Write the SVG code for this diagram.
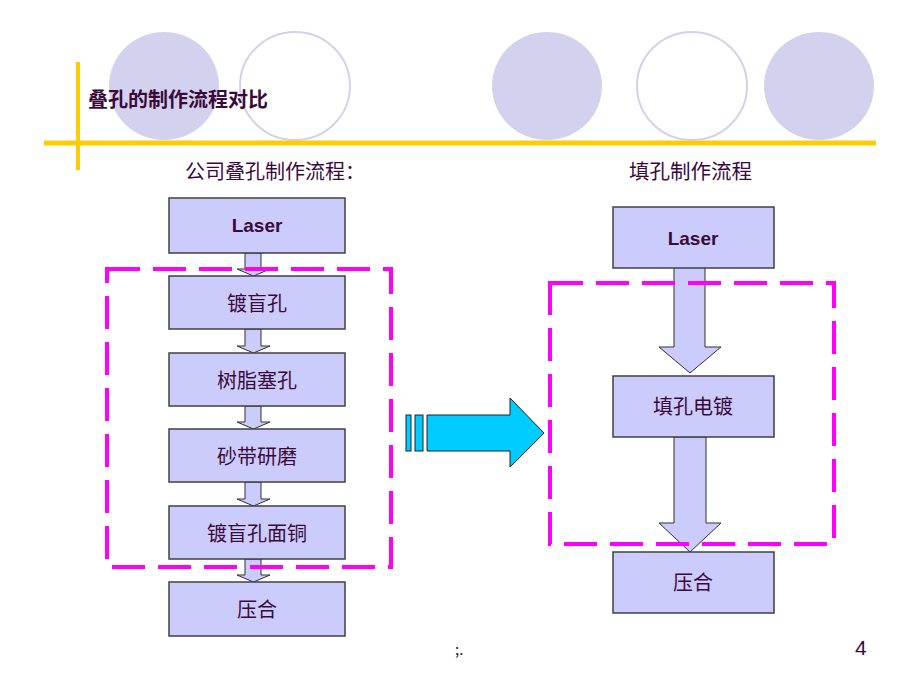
<svg xmlns="http://www.w3.org/2000/svg" width="920" height="690" viewBox="0 0 920 690">
<style>
.bg{fill:#ffffff}
.circ-f{fill:#d2d2ee;stroke:none}
.circ-o{fill:#ffffff;stroke:#d2d2ee;stroke-width:2}
.gold{stroke:#ffcc00;fill:none}
.box{fill:#ccccfc;stroke:#404040;stroke-width:1.5}
.arr{fill:#ccccfc;stroke:#303030;stroke-width:1}
.cyan{fill:#00ccff;stroke:#202020;stroke-width:1}
.dash{fill:none;stroke:#ff00ff;stroke-width:4;stroke-dasharray:33 13}
.t{font-family:"Noto Sans CJK SC","Noto Sans",sans-serif;fill:#3a0a3a}
.lbl{font-family:"Noto Sans CJK SC","Noto Sans",sans-serif;fill:#3a0a3a;font-size:20px;text-anchor:middle}
.lat{font-family:"Liberation Sans",Arial,sans-serif;fill:#3a0a3a;font-size:19px;font-weight:bold;text-anchor:middle}
</style>
<rect class="bg" x="0" y="0" width="920" height="690"/>
<g id="decor">
<ellipse class="circ-f" cx="164" cy="86" rx="55" ry="54"/>
<ellipse class="circ-o" cx="295" cy="86" rx="55" ry="54"/>
<ellipse class="circ-f" cx="547" cy="86" rx="55" ry="54"/>
<ellipse class="circ-o" cx="692" cy="86" rx="55" ry="54"/>
<ellipse class="circ-f" cx="819" cy="86" rx="55" ry="54"/>
<line class="gold" x1="78" y1="62" x2="78" y2="170" stroke-width="4"/>
<line class="gold" x1="44" y1="143" x2="876" y2="143" stroke-width="5"/>
</g>
<g id="titles">
<text class="t" x="88" y="107" font-size="20" font-weight="bold">叠孔的制作流程对比</text>
<text class="t" x="185" y="179" font-size="20">公司叠孔制作流程：</text>
<text class="t" x="629" y="179" font-size="20.5">填孔制作流程</text>
</g>
<g id="connectors">
<path class="arr" d="M245,253 L261,253 L261,269 L270,269 L253.5,276 L237,269 L245,269 Z"/>
<path class="arr" d="M245,329 L261,329 L261,346 L270,346 L253.5,353 L237,346 L245,346 Z"/>
<path class="arr" d="M245,406 L261,406 L261,422 L270,422 L253.5,429 L237,422 L245,422 Z"/>
<path class="arr" d="M245,482 L261,482 L261,499 L270,499 L253.5,506 L237,499 L245,499 Z"/>
<path class="arr" d="M245,559 L261,559 L261,575 L270,575 L253.5,582 L237,575 L245,575 Z"/>
<path class="arr" d="M674,266 L705,266 L705,347 L721,347 L690,373 L659,347 L674,347 Z"/>
<path class="arr" d="M674,437 L706,437 L706,523 L721,523 L690,552 L659,523 L674,523 Z"/>
<g id="big-arrow">
<rect class="cyan" x="406" y="415" width="5" height="36"/>
<rect class="cyan" x="415" y="415" width="8" height="36"/>
<path class="cyan" d="M427,415 L510,415 L510,398 L544,433 L510,467 L510,451 L427,451 Z"/>
</g>
</g>
<g id="node-l1"><rect class="box" x="169" y="198" width="176" height="55"/><text class="lat" x="257" y="232">Laser</text></g>
<g id="node-l2"><rect class="box" x="169" y="276" width="176" height="53"/><text class="lbl" x="257" y="311">镀盲孔</text></g>
<g id="node-l3"><rect class="box" x="169" y="353" width="176" height="53"/><text class="lbl" x="257" y="388">树脂塞孔</text></g>
<g id="node-l4"><rect class="box" x="169" y="429" width="176" height="53"/><text class="lbl" x="257" y="464">砂带研磨</text></g>
<g id="node-l5"><rect class="box" x="169" y="506" width="176" height="53"/><text class="lbl" x="257" y="541">镀盲孔面铜</text></g>
<g id="node-l6"><rect class="box" x="169" y="582" width="176" height="54"/><text class="lbl" x="257" y="617">压合</text></g>
<g id="node-r1"><rect class="box" x="613" y="207" width="161" height="61"/><text class="lat" x="693" y="245">Laser</text></g>
<g id="node-r2"><rect class="box" x="613" y="376" width="161" height="61"/><text class="lbl" x="693" y="414">填孔电镀</text></g>
<g id="node-r3"><rect class="box" x="613" y="552" width="161" height="61"/><text class="lbl" x="693" y="590">压合</text></g>
<g id="groups">
<rect class="dash" x="107" y="269" width="284" height="298"/>
<rect class="dash" x="550" y="283" width="284" height="261"/>
</g>
<g id="footer">
<text class="t" x="455" y="655" font-size="15">;.</text>
<text x="855" y="655" font-family="Liberation Sans,Arial,sans-serif" font-size="21" fill="#3a0a3a">4</text>
</g>
</svg>
